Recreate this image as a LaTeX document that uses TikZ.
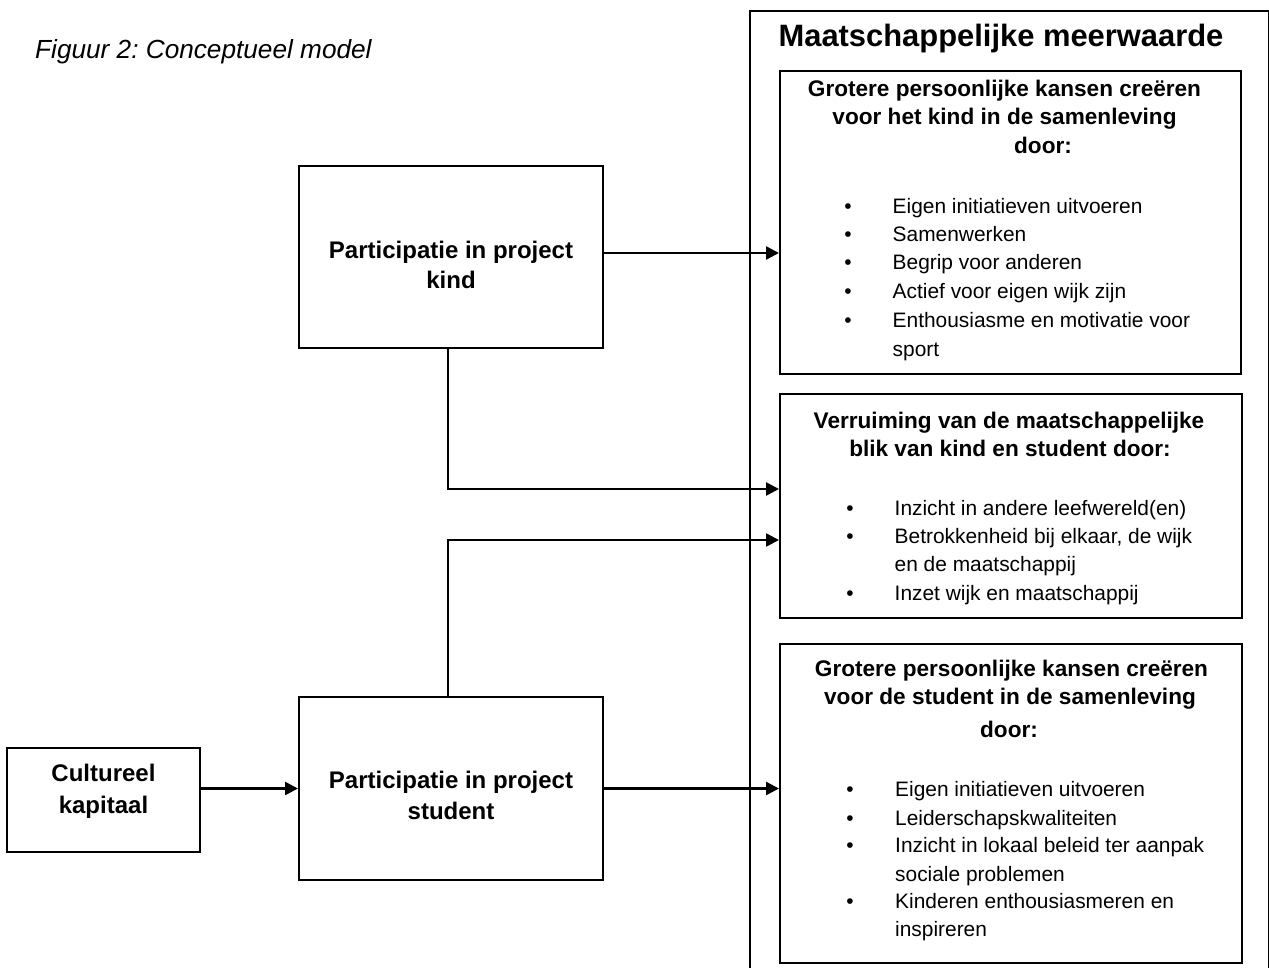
\documentclass[tikz,border=0pt]{standalone}
\usepackage{fontspec}
\setmainfont{Liberation Sans}
\frenchspacing
\usetikzlibrary{arrows.meta}
\tikzset{box/.style={draw, line width=2pt, inner sep=0pt},
  arr/.style={line width=2.5pt, -{Triangle[length=13pt,width=13pt]}},
  head/.style={anchor=base, inner sep=0pt, font=\fontsize{22.6}{28}\selectfont\bfseries},
  lbl/.style={anchor=base, inner sep=0pt, font=\fontsize{24}{30}\selectfont\bfseries},
  item/.style={anchor=base west, inner sep=0pt, font=\fontsize{20.9}{28}\selectfont},
  dot/.style={anchor=base, inner sep=0pt, font=\fontsize{20.9}{28}\selectfont}}

\begin{document}
\begin{tikzpicture}[x=1pt,y=-1pt]
  \clip (0,0) rectangle (1269,968);
  \node[anchor=base west, inner sep=0pt, font=\fontsize{26.2}{30}\selectfont\itshape] (fig) at (35,59) {Figuur 2: Conceptueel model};

  \node[box, minimum width=193pt, minimum height=104pt] (cult) at (103.5,800) {};
  \node[box, minimum width=304pt, minimum height=182pt] (kind) at (451,257) {};
  \node[box, minimum width=304pt, minimum height=183pt] (student) at (451,788.5) {};
  \node[lbl] (cult1) at (103.5,781.7) {Cultureel};
  \node[lbl] (cult2) at (103.5,813.3) {kapitaal};
  \node[lbl] (kind1) at (451,258.5) {Participatie in project};
  \node[lbl] (kind2) at (451,289) {kind};
  \node[lbl] (stud1) at (451,788.5) {Participatie in project};
  \node[lbl] (stud2) at (451,819.5) {student};

  \node[box, minimum width=519pt, minimum height=990pt, anchor=north west] (meer) at (749,10) {};
  \node[anchor=base, inner sep=0pt, font=\fontsize{30.9}{34}\selectfont\bfseries] (meer1) at (1001,47) {Maatschappelijke meerwaarde};

  \begin{scope}
   \node[box, minimum width=461pt, minimum height=303pt, anchor=north west] (r1) at (779,70) {};
   \node[head] (r1h1) at (1004.5,96.7) {Grotere persoonlijke kansen creëren};
   \node[head] (r1h2) at (1004.5,125) {voor het kind in de samenleving};
   \node[head] (r1h3) at (1043,153.3) {door:};
   \foreach \y [count=\i] in {213.5,242,270,298.5,327.5}
     \node[dot] (r1b\i) at (848,\y) {\textbullet};
   \foreach \y/\t [count=\i] in {213.5/Eigen initiatieven uitvoeren, 242/Samenwerken,
       270/Begrip voor anderen, 298.5/Actief voor eigen wijk zijn,
       327.5/Enthousiasme en motivatie voor, 356.5/sport}
     \node[item] (r1t\i) at (892.5,\y) {\t};
  \end{scope}

  \begin{scope}
   \node[box, minimum width=462pt, minimum height=224pt, anchor=north west] (r2) at (779,393) {};
   \node[head] (r2h1) at (1009,428.3) {Verruiming van de maatschappelijke};
   \node[head] (r2h2) at (1010,456.7) {blik van kind en student door:};
   \foreach \y [count=\i] in {515,543.5,600}
     \node[dot] (r2b\i) at (850,\y) {\textbullet};
   \foreach \y/\t [count=\i] in {515/Inzicht in andere leefwereld(en), 543.5/{Betrokkenheid bij elkaar, de wijk},
       571.5/en de maatschappij, 600/Inzet wijk en maatschappij}
     \node[item] (r2t\i) at (894.5,\y) {\t};
  \end{scope}

  \begin{scope}
   \node[box, minimum width=462pt, minimum height=319pt, anchor=north west] (r3) at (779,643) {};
   \node[head] (r3h1) at (1011.5,676) {Grotere persoonlijke kansen creëren};
   \node[head] (r3h2) at (1010,704) {voor de student in de samenleving};
   \node[head] (r3h3) at (1009,737) {door:};
   \foreach \y [count=\i] in {796.5,825,852.5,908.5}
     \node[dot] (r3b\i) at (850,\y) {\textbullet};
   \foreach \y/\t [count=\i] in {796.5/Eigen initiatieven uitvoeren, 825/Leiderschapskwaliteiten,
       852.5/Inzicht in lokaal beleid ter aanpak, 881/sociale problemen,
       908.5/Kinderen enthousiasmeren en, 936.5/inspireren}
     \node[item] (r3t\i) at (895,\y) {\t};
  \end{scope}

  \coordinate (r2a) at ([yshift=17pt]r2.west);
  \coordinate (r2b) at ([yshift=-34pt]r2.west);
  \draw[arr] ([yshift=4pt]kind.east) -- ([yshift=4pt]kind.east -| r1.west);
  \draw[arr] ([xshift=-3pt]kind.south) |- (r2a);
  \draw[arr] ([xshift=-3pt]student.north) |- (r2b);
  \draw[arr] (student.east) -- (student.east -| r3.west);
  \draw[arr] (cult.east |- student.west) -- (student.west);
\end{tikzpicture}
\end{document}
